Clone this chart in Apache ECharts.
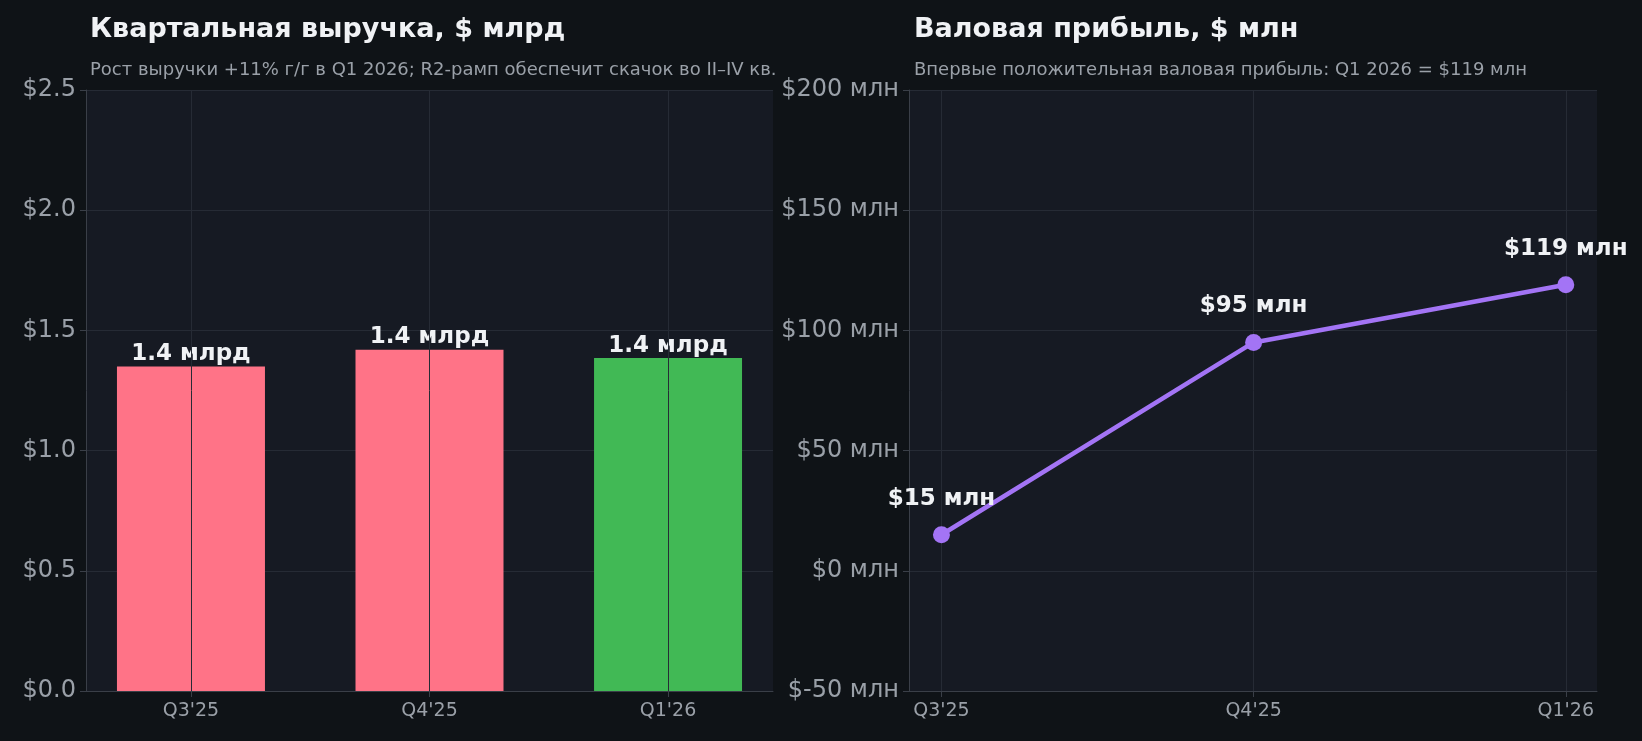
<!DOCTYPE html>
<html><head><meta charset="utf-8">
<script src="https://cdn.jsdelivr.net/npm/echarts@6/dist/echarts.min.js"></script>
<style>html,body{margin:0;background:#0f1317}#c{width:1642px;height:741px}</style>
</head><body><div id="c"></div>
<script>
const categories = ["Q3'25","Q4'25","Q1'26"];
const revenue = [1.35, 1.42, 1.385];
const revenueLabels = ["1.4 млрд","1.4 млрд","1.4 млрд"];
const barColors = ["#ff7387","#ff7387","#41b955"];
const grossProfit = [15, 95, 119];
const profitLabels = ["$15 млн","$95 млн","$119 млн"];

const ch = echarts.init(document.getElementById('c'));
const font = 'DejaVu Sans';
const gridLine = {show:true,lineStyle:{color:'#262b35',width:1}};
const vLines = {silent:true,symbol:'none',label:{show:false},lineStyle:{color:'#262b35',width:1,type:'solid'},
  data:[{xAxis:0},{xAxis:1},{xAxis:2}]};
const xAxisBase = (idx,min,max)=>({type:'value',gridIndex:idx,min:min,max:max,
  axisLine:{show:true,onZero:false,lineStyle:{color:'#3a3f48'}},
  axisTick:{show:true,customValues:[0,1,2],length:6,lineStyle:{color:'#3a3f48'}},
  axisLabel:{customValues:[0,1,2],formatter:v=>categories[Math.round(v)],color:'#9aa0a8',fontSize:19,fontFamily:font,margin:11},
  splitLine:{show:false}});
const yAxisBase = (idx)=>({type:'value',gridIndex:idx,
  axisLine:{show:true,onZero:false,lineStyle:{color:'#3a3f48'}},axisTick:{show:true,length:6,lineStyle:{color:'#3a3f48'}},
  splitLine:gridLine});
ch.setOption({
  backgroundColor:'#0f1317',
  textStyle:{fontFamily:font},
  title:[
    {text:'Квартальная выручка, $ млрд',left:85,top:11,textStyle:{color:'#f0f2f5',fontSize:27,fontWeight:'bold',fontFamily:font}},
    {text:'Рост выручки +11% г/г в Q1 2026; R2-рамп обеспечит скачок во II–IV кв.',left:85,top:56,textStyle:{color:'#9aa0a8',fontSize:18,fontWeight:'normal',fontFamily:font}},
    {text:'Валовая прибыль, $ млн',left:909,top:11,textStyle:{color:'#f0f2f5',fontSize:27,fontWeight:'bold',fontFamily:font}},
    {text:'Впервые положительная валовая прибыль: Q1 2026 = $119 млн',left:909,top:56,textStyle:{color:'#9aa0a8',fontSize:18,fontWeight:'normal',fontFamily:font}}
  ],
  grid:[
    {left:86,top:90,width:687,height:601,backgroundColor:'#161a23',show:true,borderWidth:0},
    {left:909,top:90,width:688,height:601,backgroundColor:'#161a23',show:true,borderWidth:0}
  ],
  xAxis:[xAxisBase(0,-0.44,2.44),xAxisBase(1,-0.104,2.1)],
  yAxis:[
    Object.assign(yAxisBase(0),{min:0,max:2.5,interval:0.5,
      axisLabel:{formatter:v=>'$'+v.toFixed(1),color:'#9aa0a8',fontSize:24,fontFamily:font,margin:10}}),
    Object.assign(yAxisBase(1),{min:-50,max:200,interval:50,
      axisLabel:{formatter:v=>'$'+v+' млн',color:'#9aa0a8',fontSize:24,fontFamily:font,margin:10}})
  ],
  series:[
    {type:'bar',xAxisIndex:0,yAxisIndex:0,barWidth:148,
     data:revenue.map((v,i)=>({value:[i,v],itemStyle:{color:barColors[i]}})),
     markLine:vLines,
     label:{show:true,position:'top',distance:1,formatter:p=>revenueLabels[p.dataIndex],color:'#f0f2f5',fontSize:23,fontWeight:'bold',fontFamily:font}},
    {type:'line',xAxisIndex:1,yAxisIndex:1,symbol:'circle',symbolSize:17,z:5,
     lineStyle:{color:'#a374f5',width:4.5},itemStyle:{color:'#a374f5'},
     data:grossProfit.map((v,i)=>[i,v]),
     markLine:vLines,
     label:{show:true,position:'top',distance:16,formatter:p=>profitLabels[p.dataIndex],color:'#f0f2f5',fontSize:23,fontWeight:'bold',fontFamily:font}}
  ]
});
</script></body></html>
